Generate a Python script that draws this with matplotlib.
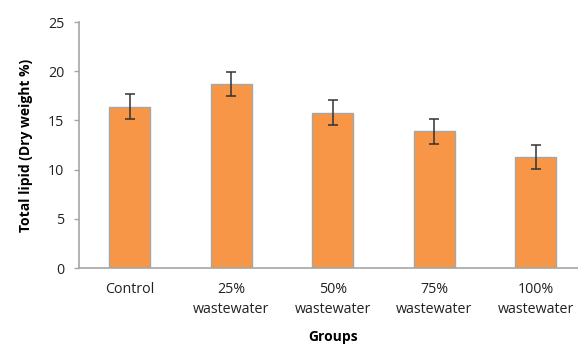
import matplotlib.pyplot as plt
import numpy as np

plt.rcParams['font.family'] = ['Open Sans', 'DejaVu Sans']

groups = ['Control', '25%\nwastewater', '50%\nwastewater', '75%\nwastewater', '100%\nwastewater']
lipid = [16.4, 18.7, 15.8, 13.9, 11.3]
err = [1.25, 1.25, 1.27, 1.28, 1.25]

fig = plt.figure(figsize=(5.78, 3.44), dpi=100)
ax = fig.add_axes([79 / 578, 1 - 268 / 344, 507.5 / 578, 246 / 344])

x = np.arange(len(groups))
ax.bar(x, lipid, width=0.4, color='#f79646', edgecolor='#a6a6a6', linewidth=1.0,
       yerr=err, capsize=3.5, error_kw=dict(ecolor='#333333', elinewidth=1.1, capthick=1.1))

ax.set_xlim(-0.5, 4.5)
ax.set_ylim(0, 25)
ax.set_yticks([0, 5, 10, 15, 20, 25])
ax.set_xticks(x)
ax.set_xticklabels(groups, fontsize=10.3, color='#222222', linespacing=1.5)
ax.tick_params(axis='x', length=0, pad=10)
ax.tick_params(axis='y', labelsize=10.3, labelcolor='#222222', length=3.6, width=1, color='#a6a6a6', pad=7)

for side in ['top', 'right']:
    ax.spines[side].set_visible(False)
for side in ['left', 'bottom']:
    ax.spines[side].set_color('#a6a6a6')
    ax.spines[side].set_linewidth(1.2)

ax.set_ylabel('Total lipid (Dry weight %)', fontsize=10, fontweight='bold', labelpad=11)
ax.set_xlabel('Groups', fontsize=10, fontweight='bold', labelpad=9)

fig.savefig('out.png', dpi=100)
